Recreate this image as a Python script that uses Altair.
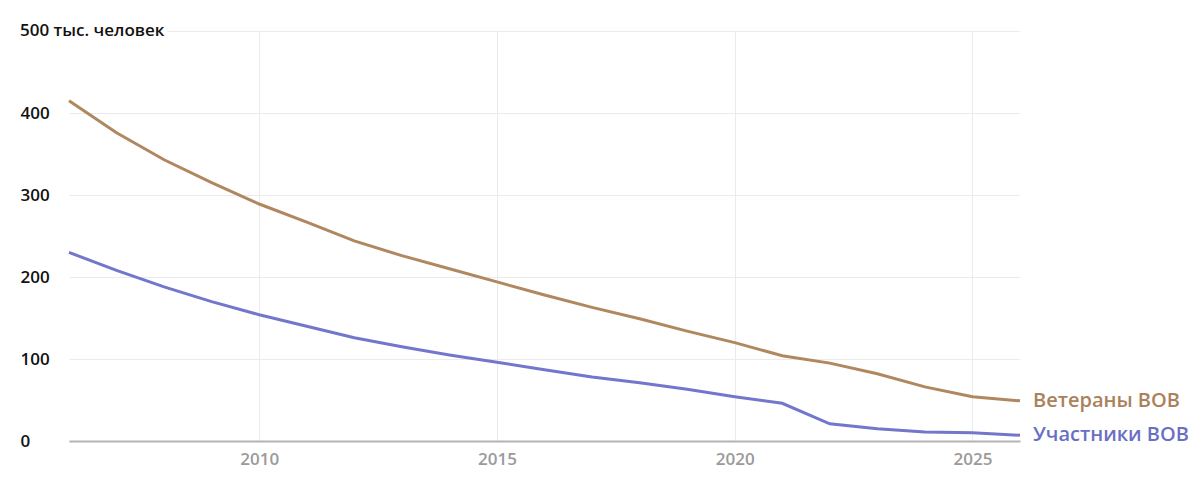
import altair as alt
import pandas as pd

years = list(range(2006, 2027))
veterans = [415, 376, 343, 315, 289, 267, 244, 226, 210, 194, 178, 163, 149, 134, 120, 104, 95, 82, 66, 54, 49]
participants = [230, 208, 188, 170, 154, 140, 126, 115, 105, 96, 87, 78, 71, 63, 54, 46, 21, 15, 11, 10, 7]
series_names = ["Ветераны ВОВ", "Участники ВОВ"]
series_colors = ["#b0875e", "#7276cc"]
label_colors = ["#a9825c", "#6a6fc4"]
y_ticks = [0, 100, 200, 300, 400, 500]
x_ticks = [2010, 2015, 2020, 2025]
unit_label = "500 тыс. человек"

rows = []
for y, v, p in zip(years, veterans, participants):
    rows.append({"year": y, "value": v, "series": series_names[0]})
    rows.append({"year": y, "value": p, "series": series_names[1]})
df = pd.DataFrame(rows)
last = df[df["year"] == years[-1]]

FONT = "Open Sans"

x = alt.X("year:Q", scale=alt.Scale(domain=[years[0], years[-1]], nice=False, zero=False),
          axis=alt.Axis(values=x_ticks, format="d", title=None, grid=True, gridColor="#ebebeb",
                        gridWidth=1, ticks=False, domain=True, domainColor="#b4b4b4", domainWidth=2,
                        labelColor="#9a9a9a", labelFontSize=17, labelFontWeight=600,
                        labelFont=FONT, labelPadding=10))
y = alt.Y("value:Q", scale=alt.Scale(domain=[0, 500], nice=False),
          axis=alt.Axis(values=y_ticks, title=None, grid=True, gridColor="#ebebeb", gridWidth=1,
                        ticks=False, domain=False, labelAlign="left", labelPadding=49,
                        labelColor="#111111", labelFontSize=17, labelFontWeight=600,
                        labelFont=FONT, labelExpr="datum.value == 500 ? '' : datum.label"))

color = alt.Color("series:N", scale=alt.Scale(domain=series_names, range=series_colors), legend=None)

lines = alt.Chart(df).mark_line(strokeWidth=3, interpolate="linear").encode(x=x, y=y, color=color)

end_labels = alt.Chart(last).mark_text(align="left", baseline="middle", dx=13, fontSize=20,
                                       fontWeight=600, font=FONT).encode(
    x="year:Q", y="value:Q", text="series:N",
    color=alt.Color("series:N", scale=alt.Scale(domain=series_names, range=label_colors), legend=None))

unit_df = pd.DataFrame({"value": [500], "text": [unit_label]})
halo = alt.Chart(unit_df).mark_text(align="left", baseline="middle", fontSize=17, fontWeight=600,
                                    font=FONT, stroke="white", strokeWidth=10, fill="white").encode(
    x=alt.value(-49), y="value:Q", text="text:N")
unit = alt.Chart(unit_df).mark_text(align="left", baseline="middle", fontSize=17, fontWeight=600,
                                    font=FONT, color="#111111").encode(
    x=alt.value(-49), y="value:Q", text="text:N")

chart = alt.layer(lines, halo, unit, end_labels).resolve_scale(color="independent").properties(
    width=951, height=410,
    autosize=alt.AutoSizeParams(type="none"),
    padding={"left": 69, "top": 31, "right": 180, "bottom": 43},
    background="white",
).configure_view(stroke=None)

chart.save("out.html", embed_options={"renderer": "svg", "actions": False})
